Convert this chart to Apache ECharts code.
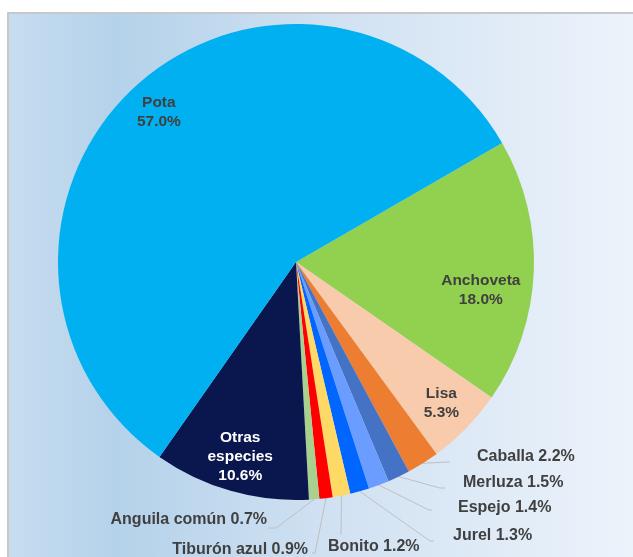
<!DOCTYPE html>
<html><head><meta charset="utf-8">
<script src="https://cdn.jsdelivr.net/npm/echarts/dist/echarts.min.js"></script>
<style>html,body{margin:0;padding:0;background:#fff}#c{width:633px;height:557px}</style>
</head><body><div id="c"></div>
<script>
const categories = ['Anchoveta','Lisa','Caballa','Merluza','Espejo','Jurel','Bonito','Tiburón azul','Anguila común','Otras especies','Pota'];
const values = [18.0, 5.3, 2.2, 1.5, 1.4, 1.3, 1.2, 0.9, 0.7, 10.6, 57.0];
const colors = ['#92d050','#f8cbad','#ed7d31','#4472c4','#6b9cff','#0066ff','#ffd966','#ff0000','#a9d18e','#0a174e','#00b0f0'];
const insideText = {'Anchoveta':'Anchoveta','Lisa':'Lisa','Otras especies':'Otras\nespecies','Pota':'Pota'};

// label placement (layout, not data): [x, y, align, lineEndX, lineEndY, elbowX]
const outsidePos = {
  'Caballa':       [477, 457, 'left',  450, 462, 447],
  'Merluza':       [463, 483, 'left',  445, 488, 440],
  'Espejo':        [458, 508, 'left',  432, 510, 429],
  'Jurel':         [453, 536, 'left',  434, 541, 430],
  'Bonito':        [328, 547, 'left',  341, 535, 341],
  'Tiburón azul':  [308, 550, 'right', 312, 553, 315],
  'Anguila común': [267, 520, 'right', 268, 528, 276]
};
const insideShift = {'Anchoveta': [-18, 20]};

const fmt = v => v.toFixed(1) + '%';
const chart = echarts.init(document.getElementById('c'), null, {renderer: 'canvas'});

const mainData = categories.map((n, i) => ({
  name: n, value: values[i],
  itemStyle: {color: colors[i]},
  label: {show: !insideText[n]},
  labelLine: {show: !insideText[n]}
}));
const labelData = categories.map((n, i) => ({
  name: n, value: values[i],
  label: {show: !!insideText[n], color: n === 'Otras especies' ? '#ffffff' : '#404040'}
}));

chart.setOption({
  animation: false,
  graphic: [{
    type: 'rect', z: -10, silent: true,
    shape: {x: 8, y: 13, width: 640, height: 560},
    style: {
      fill: new echarts.graphic.LinearGradient(0, 0, 1, 0, [
        {offset: 0, color: '#c8ddf0'},
        {offset: 0.17, color: '#b4d2ea'},
        {offset: 0.5, color: '#d0e1f2'},
        {offset: 1, color: '#eef4fb'}
      ]),
      stroke: '#c8c8c8', lineWidth: 2
    }
  }],
  series: [{
    type: 'pie',
    center: [296, 262],
    radius: 238,
    startAngle: 30,
    clockwise: true,
    silent: true,
    avoidLabelOverlap: false,
    data: mainData,
    label: {
      position: 'outside',
      formatter: p => p.name + ' ' + fmt(p.value),
      fontFamily: 'Liberation Sans, Arial, sans-serif',
      fontWeight: 'bold', fontSize: 16, color: '#404040'
    },
    labelLine: {lineStyle: {color: '#c0c0c0', width: 1}, length: 20, length2: 20},
    labelLayout: function (params) {
      const p = outsidePos[categories[params.dataIndex]];
      if (!p) return {};
      const res = {x: p[0], y: p[1], align: p[2], verticalAlign: 'middle'};
      const pts = params.labelLinePoints;
      if (pts && pts.length) {
        res.labelLinePoints = [pts[0], [p[5], p[4]], [p[3], p[4]]];
      }
      return res;
    }
  }, {
    type: 'pie',
    center: [296, 262],
    radius: [162, 238],
    startAngle: 30,
    clockwise: true,
    silent: true,
    avoidLabelOverlap: false,
    data: labelData,
    itemStyle: {color: 'rgba(0,0,0,0)'},
    label: {
      position: 'inside',
      formatter: p => insideText[p.name] + '\n' + fmt(p.value),
      fontFamily: 'Liberation Sans, Arial, sans-serif',
      fontWeight: 'bold', fontSize: 15.5, lineHeight: 19, align: 'center'
    },
    labelLine: {show: false},
    labelLayout: function (params) {
      const s = insideShift[categories[params.dataIndex]];
      if (!s) return {};
      return {dx: s[0], dy: s[1]};
    }
  }]
});
</script></body></html>
